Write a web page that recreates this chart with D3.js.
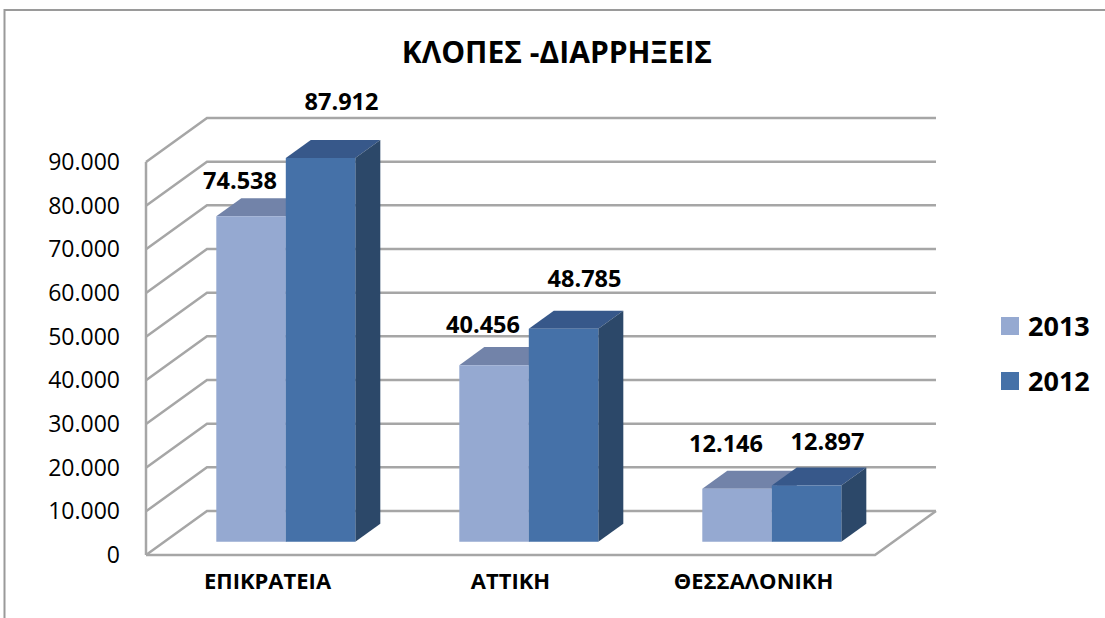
<!DOCTYPE html>
<html>
<head>
<meta charset="utf-8">
<script src="https://cdn.jsdelivr.net/npm/d3@7"></script>
<style>
  html, body { margin: 0; padding: 0; background: #ffffff; }
  svg { display: block; }
</style>
</head>
<body>
<svg id="chart" width="1105" height="618"></svg>
<script>
// ---- data ----
const title = "ΚΛΟΠΕΣ -ΔΙΑΡΡΗΞΕΙΣ";
const categories = ["ΕΠΙΚΡΑΤΕΙΑ", "ΑΤΤΙΚΗ", "ΘΕΣΣΑΛΟΝΙΚΗ"];
const seriesNames = ["2013", "2012"];
const values2013 = [74538, 40456, 12146];
const values2012 = [87912, 48785, 12897];
const yTicks = [0, 10000, 20000, 30000, 40000, 50000, 60000, 70000, 80000, 90000];

// ---- styles ----
const FONT = "'Open Sans', 'DejaVu Sans', sans-serif";
const colors = {
  "2013": { front: "#95A9D1", top: "#7283A9", side: "#5E6F93" },
  "2012": { front: "#4571A8", top: "#37588A", side: "#2C4869" }
};
const gridColor = "#A6A6A6";

const svg = d3.select("#chart");
const fmt = d3.formatLocale({ decimal: ",", thousands: ".", grouping: [3], currency: ["", "€"] }).format(",d");

// ---- 3D geometry ----
const DX = 61, DY = 44;          // depth offset of back wall
const Z0 = 0.30, Z1 = 0.71;      // bar depth range
const y = d3.scaleLinear().domain([0, 90000]).range([555, 162]);
const x0 = d3.scaleBand().domain(categories).range([146, 875]);
const x1 = d3.scaleBand().domain(seriesNames).range([52, 191]);
// label placement scales (per series, as in the 3D projection of the original)
const yLab = {
  "2013": d3.scaleLinear().domain([0, 90000]).range([495, 115]),
  "2012": d3.scaleLinear().domain([0, 90000]).range([499.5, 91.6])
};
const labDx = { "2013": -11, "2012": 21 };
const P = (x, v, z) => [x + z * DX, y(v) - z * DY];
const poly = pts => pts.map(p => p.join(",")).join(" ");

// chart border
svg.append("rect").attr("x", 4.5).attr("y", 10).attr("width", 1200).attr("height", 700)
  .attr("fill", "none").attr("stroke", "#9A9A9A").attr("stroke-width", 2);

// gridlines on left wall and back wall
const xL = x0.range()[0], xR = x0.range()[1];
svg.append("g").selectAll("polyline").data(yTicks).join("polyline")
  .attr("points", d => poly([P(xL, d, 0), P(xL, d, 1), P(xR, d, 1)]))
  .attr("fill", "none").attr("stroke", gridColor).attr("stroke-width", 2.5);

// front-left vertical edge
svg.append("line")
  .attr("x1", P(xL, 0, 0)[0]).attr("y1", P(xL, 0, 0)[1])
  .attr("x2", P(xL, yTicks[yTicks.length - 1], 0)[0]).attr("y2", P(xL, yTicks[yTicks.length - 1], 0)[1])
  .attr("stroke", gridColor).attr("stroke-width", 2.5);

// floor front and right edges
svg.append("polyline")
  .attr("points", poly([P(xL, 0, 0), P(xR, 0, 0), P(xR, 0, 1)]))
  .attr("fill", "none").attr("stroke", gridColor).attr("stroke-width", 2.5);

// y-axis labels
svg.append("g").selectAll("text").data(yTicks).join("text")
  .attr("x", 120).attr("y", d => y(d) + 8)
  .attr("text-anchor", "end")
  .attr("font-family", FONT).attr("font-size", 23).attr("fill", "#000")
  .text(d => fmt(d));

// bars
const rows = [];
categories.forEach((c, i) => {
  rows.push({ cat: c, s: "2013", v: values2013[i] });
  rows.push({ cat: c, s: "2012", v: values2012[i] });
});
const bw = x1.bandwidth();
const barG = svg.append("g");
rows.forEach(r => {
  const xl = x0(r.cat) + x1(r.s), xr = xl + bw;
  const g = barG.append("g");
  g.append("polygon").attr("points", poly([P(xl, r.v, Z0), P(xr, r.v, Z0), P(xr, r.v, Z1), P(xl, r.v, Z1)]))
    .attr("fill", colors[r.s].top);
  g.append("polygon").attr("points", poly([P(xr, 0, Z0), P(xr, 0, Z1), P(xr, r.v, Z1), P(xr, r.v, Z0)]))
    .attr("fill", colors[r.s].side);
  g.append("polygon").attr("points", poly([P(xl, 0, Z0), P(xr, 0, Z0), P(xr, r.v, Z0), P(xl, r.v, Z0)]))
    .attr("fill", colors[r.s].front);
});

// data labels
svg.append("g").selectAll("text").data(rows).join("text")
  .attr("x", d => P(x0(d.cat) + x1(d.s) + bw / 2, 0, Z0)[0] + labDx[d.s])
  .attr("y", d => yLab[d.s](d.v) + 8.5)
  .attr("text-anchor", "middle")
  .attr("font-family", FONT).attr("font-size", 23.5).attr("font-weight", "bold").attr("fill", "#000")
  .text(d => fmt(d.v));

// category labels
svg.append("g").selectAll("text").data(categories).join("text")
  .attr("x", d => x0(d) + x0.bandwidth() / 2).attr("y", 589)
  .attr("text-anchor", "middle")
  .attr("font-family", FONT).attr("font-size", 22).attr("font-weight", "bold").attr("fill", "#000")
  .text(d => d);

// title
svg.append("text").attr("x", 557).attr("y", 63).attr("text-anchor", "middle")
  .attr("font-family", FONT).attr("font-size", 30).attr("font-weight", "bold").attr("fill", "#000")
  .text(title);

// legend
const leg = svg.append("g").selectAll("g").data(seriesNames).join("g")
  .attr("transform", (d, i) => `translate(1001, ${317 + i * 55})`);
leg.append("rect").attr("width", 18).attr("height", 18).attr("fill", d => colors[d].front);
leg.append("text").attr("x", 27).attr("y", 19)
  .attr("font-family", FONT).attr("font-size", 27).attr("font-weight", "bold").attr("fill", "#000")
  .text(d => d);
</script>
</body>
</html>
